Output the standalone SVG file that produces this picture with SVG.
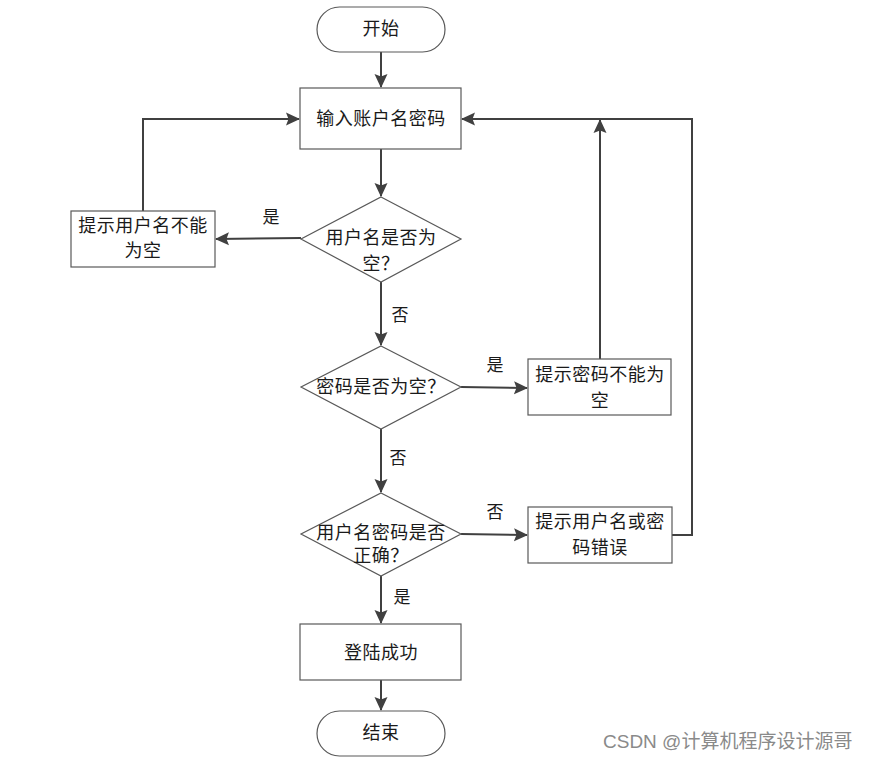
<svg xmlns="http://www.w3.org/2000/svg" width="870" height="760" viewBox="0 0 870 760">
<defs>
<marker id="ah" markerWidth="14" markerHeight="14" refX="13" refY="7" orient="auto" markerUnits="userSpaceOnUse" viewBox="0 0 14 14">
<path d="M0,0.5 L14,7 L0,13.5 L2.5,7 z" fill="#404040"/>
</marker>
<style>
.shape{fill:#fff;stroke:#595959;stroke-width:1.2}
.t{font-family:"Liberation Serif","Noto Sans CJK SC",serif;font-size:18px;letter-spacing:0.5px;fill:#1a1a1a;text-anchor:middle;dominant-baseline:central}
.lbl{font-family:"Liberation Serif","Noto Sans CJK SC",serif;font-size:17px;fill:#1a1a1a;text-anchor:middle;dominant-baseline:central}
.c{fill:none;stroke:#404040;stroke-width:2}
.wm{font-family:"Liberation Sans","Noto Sans CJK SC",sans-serif;font-size:19px;fill:#8a8a8a}
</style>
</defs>
<rect width="870" height="760" fill="#fff"/>
<g id="connectors">
<line class="c" x1="381" y1="52" x2="381" y2="87" marker-end="url(#ah)"/>
<line class="c" x1="381" y1="149" x2="381" y2="196" marker-end="url(#ah)"/>
<line class="c" x1="301" y1="238" x2="216" y2="239" marker-end="url(#ah)"/>
<polyline class="c" points="143,211 143,119 299,119" marker-end="url(#ah)"/>
<line class="c" x1="381" y1="282" x2="381" y2="345" marker-end="url(#ah)"/>
<line class="c" x1="461" y1="387" x2="527" y2="388" marker-end="url(#ah)"/>
<line class="c" x1="600" y1="359" x2="600" y2="120" marker-end="url(#ah)"/>
<line class="c" x1="381" y1="429" x2="381" y2="492" marker-end="url(#ah)"/>
<line class="c" x1="461" y1="534" x2="527" y2="535" marker-end="url(#ah)"/>
<polyline class="c" points="672,535 692,535 692,119 462,119" marker-end="url(#ah)"/>
<line class="c" x1="381" y1="576" x2="381" y2="623" marker-end="url(#ah)"/>
<line class="c" x1="381" y1="680" x2="381" y2="710" marker-end="url(#ah)"/>
<text class="lbl" x="271" y="217">是</text>
<text class="lbl" x="400" y="315">否</text>
<text class="lbl" x="495" y="365">是</text>
<text class="lbl" x="398" y="458">否</text>
<text class="lbl" x="495" y="512">否</text>
<text class="lbl" x="402" y="597">是</text>
</g>
<g id="start">
<rect class="shape" x="317" y="7" width="128" height="45" rx="22.5"/>
<text class="t" x="381" y="29">开始</text>
</g>
<g id="input">
<rect class="shape" x="300" y="88" width="161" height="61"/>
<text class="t" x="381" y="119">输入账户名密码</text>
</g>
<g id="d1">
<polygon class="shape" points="381,197 461,239 381,282 301,239"/>
<text class="t" x="381" y="238">用户名是否为</text>
<text class="t" x="381" y="264">空？</text>
</g>
<g id="e1">
<rect class="shape" x="71" y="211" width="144" height="56"/>
<text class="t" x="143" y="226">提示用户名不能</text>
<text class="t" x="143" y="251">为空</text>
</g>
<g id="d2">
<polygon class="shape" points="381,346 461,387 381,429 301,387"/>
<text class="t" x="381" y="387">密码是否为空？</text>
</g>
<g id="e2">
<rect class="shape" x="528" y="359" width="143" height="56"/>
<text class="t" x="600" y="375">提示密码不能为</text>
<text class="t" x="600" y="401">空</text>
</g>
<g id="d3">
<polygon class="shape" points="381,493 461,534 381,576 301,534"/>
<text class="t" x="381" y="533">用户名密码是否</text>
<text class="t" x="381" y="556">正确？</text>
</g>
<g id="e3">
<rect class="shape" x="528" y="507" width="144" height="56"/>
<text class="t" x="600" y="522">提示用户名或密</text>
<text class="t" x="600" y="548">码错误</text>
</g>
<g id="ok">
<rect class="shape" x="300" y="624" width="161" height="56"/>
<text class="t" x="381" y="653">登陆成功</text>
</g>
<g id="end">
<rect class="shape" x="317" y="711" width="128" height="45" rx="22.5"/>
<text class="t" x="381" y="733">结束</text>
</g>
<text class="wm" x="603" y="748">CSDN @计算机程序设计源哥</text>
</svg>
